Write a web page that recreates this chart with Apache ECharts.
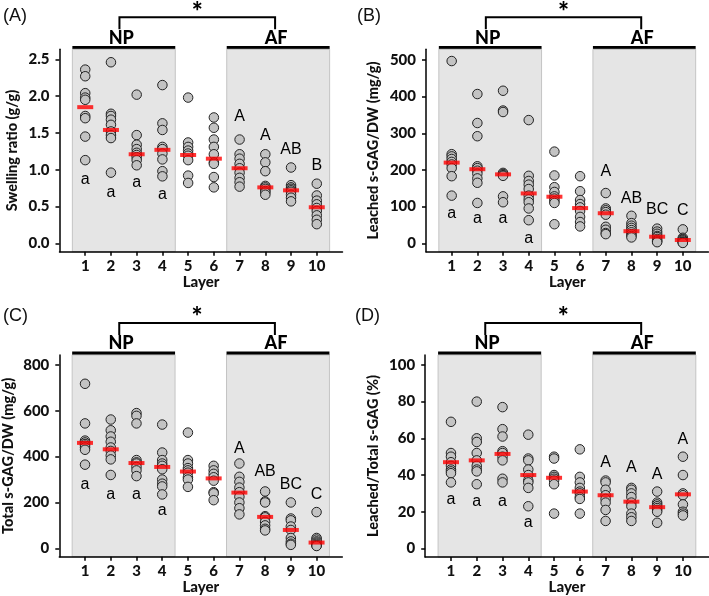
<!DOCTYPE html>
<html>
<head>
<meta charset="utf-8">
<script src="https://cdn.jsdelivr.net/npm/echarts@6/dist/echarts.min.js"></script>
<style>html,body{margin:0;padding:0;background:#fff;}#c{width:709px;height:596px;}</style>
</head>
<body>
<div id="c"></div>
<script>
// ---------- DATA ----------
const layers = [1, 2, 3, 4, 5, 6, 7, 8, 9, 10];

const swelling = [
  [2.36, 2.27, 2.04, 1.98, 1.95, 1.73, 1.70, 1.45, 1.13],
  [2.46, 1.76, 1.73, 1.68, 1.61, 1.52, 1.47, 1.43, 0.96],
  [2.02, 1.47, 1.34, 1.28, 1.23, 1.20, 1.17, 1.13, 1.06],
  [2.15, 1.63, 1.54, 1.31, 1.28, 1.22, 1.14, 0.98, 0.91],
  [1.98, 1.37, 1.31, 1.26, 1.22, 1.19, 1.13, 0.92, 0.82],
  [1.71, 1.57, 1.41, 1.31, 1.21, 1.10, 1.08, 0.90, 0.76],
  [1.41, 1.21, 1.15, 1.08, 1.02, 0.96, 0.89, 0.83, 0.77],
  [1.21, 1.10, 0.98, 0.78, 0.76, 0.74, 0.71, 0.69, 0.66],
  [1.03, 0.79, 0.76, 0.74, 0.72, 0.70, 0.66, 0.62, 0.57],
  [0.81, 0.65, 0.58, 0.53, 0.48, 0.44, 0.38, 0.32, 0.26]
];
const swellingMedian = [1.85, 1.54, 1.21, 1.27, 1.20, 1.15, 1.02, 0.76, 0.72, 0.49];
const swellingLetters = [[1, 'a', 0.87], [2, 'a', 0.69], [3, 'a', 0.82], [4, 'a', 0.66],
  [7, 'A', 1.72], [8, 'A', 1.47], [9, 'AB', 1.28], [10, 'B', 1.06]];
const swellingTicks = [0, 0.5, 1.0, 1.5, 2.0, 2.5];

const leached = [
  [497, 243, 237, 230, 222, 215, 205, 183, 130],
  [407, 328, 292, 210, 205, 198, 190, 177, 165, 110],
  [416, 362, 358, 192, 189, 186, 184, 128, 112],
  [336, 184, 170, 160, 148, 130, 120, 112, 95, 63],
  [250, 185, 153, 140, 128, 122, 115, 110, 52],
  [183, 142, 118, 107, 98, 88, 72, 58, 46],
  [137, 95, 90, 85, 78, 45, 37, 28, 25],
  [75, 55, 48, 42, 36, 30, 25, 20, 16],
  [40, 32, 26, 20, 17, 12, 8, 5, 3],
  [38, 15, 12, 10, 8, 5, 3, 2, 1]
];
const leachedMedian = [220, 202, 188, 136, 127, 96, 82, 33, 18, 9];
const leachedLetters = [[1, 'a', 82], [2, 'a', 68], [3, 'a', 68], [4, 'a', 14],
  [7, 'A', 195], [8, 'AB', 123], [9, 'BC', 91], [10, 'C', 89]];
const leachedTicks = [0, 100, 200, 300, 400, 500];

const total = [
  [718, 545, 470, 462, 455, 448, 440, 430, 365],
  [562, 515, 488, 465, 440, 425, 405, 388, 320],
  [590, 578, 545, 385, 375, 370, 355, 340, 315],
  [540, 418, 385, 370, 360, 345, 300, 282, 270, 235],
  [505, 385, 370, 350, 340, 330, 310, 300, 268],
  [360, 340, 325, 310, 295, 245, 240, 210],
  [370, 312, 290, 265, 245, 225, 200, 175, 148],
  [248, 205, 200, 140, 135, 115, 100, 85, 78],
  [200, 130, 122, 95, 80, 45, 30, 20, 15],
  [158, 45, 38, 30, 25, 20, 15, 12, 10]
];
const totalMedian = [460, 432, 372, 355, 335, 305, 243, 137, 80, 25];
const totalLetters = [[1, 'a', 276], [2, 'a', 233], [3, 'a', 233], [4, 'a', 163],
  [7, 'A', 436], [8, 'AB', 335], [9, 'BC', 279], [10, 'C', 233]];
const totalTicks = [0, 200, 400, 600, 800];

const ratio = [
  [69, 52, 50, 47, 45, 43, 42, 41, 36],
  [80, 60, 58, 52, 48, 45, 43, 42, 35],
  [77, 65, 61, 53, 52, 50, 48, 38, 36],
  [62, 49, 48, 43, 40, 37, 36, 33, 23],
  [50, 49, 40, 39, 38, 37, 35, 19],
  [54, 39, 36, 33, 31, 30, 28, 27, 19],
  [37, 36, 32, 29, 27, 25, 21, 15],
  [33, 32, 30, 28, 25, 23, 19, 17, 15],
  [31, 25, 24, 23, 22, 21, 20, 14],
  [50, 40, 30, 29, 24, 20, 19, 18]
];
const ratioMedian = [47, 48, 51.5, 40, 38.5, 31, 29, 25.5, 22.5, 29.5];
const ratioLetters = [[1, 'a', 26.6], [2, 'a', 25.4], [3, 'a', 25.4], [4, 'a', 14],
  [7, 'A', 46.6], [8, 'A', 43.8], [9, 'A', 40.2], [10, 'A', 59.2]];
const ratioTicks = [0, 20, 40, 60, 80, 100];

const panelTags = ['(A)', '(B)', '(C)', '(D)'];
const yNames = ['Swelling ratio (g/g)', 'Leached s-GAG/DW (mg/g)', 'Total s-GAG/DW (mg/g)', 'Leached/Total s-GAG (%)'];
const regionNames = ['NP', 'AF'];
const regionRanges = [[0.5, 4.5], [6.5, 10.5]];
const bracketEnds = [2.33, 8.38];
const xName = 'Layer';

// ---------- LAYOUT / STYLE ----------
const panels = [
  { vals: swelling, med: swellingMedian, let: swellingLetters, ticks: swellingTicks, dec: 1,
    grid: { left: 59.5, top: 49.3, width: 283, height: 202.4 }, ymin: -0.114, ymax: 2.636, gap: 40, tag: [3, 16.5] },
  { vals: leached, med: leachedMedian, let: leachedLetters, ticks: leachedTicks, dec: 0,
    grid: { left: 426, top: 49.3, width: 282.5, height: 202.4 }, ymin: -22.9, ymax: 529, gap: 45, tag: [357, 16] },
  { vals: total, med: totalMedian, let: totalLetters, ticks: totalTicks, dec: 0,
    grid: { left: 59.3, top: 355, width: 283, height: 201.7 }, ymin: -36.7, ymax: 843.6, gap: 43, tag: [3, 316] },
  { vals: ratio, med: ratioMedian, let: ratioLetters, ticks: ratioTicks, dec: 0,
    grid: { left: 425.2, top: 355, width: 283.5, height: 202.7 }, ymin: -4.7, ymax: 105.4, gap: 44, tag: [355, 316.5] }
];

const boldFont = 'Lato';
const axisColor = '#000';

const grids = [], xAxes = [], yAxes = [], series = [];
panels.forEach((p, i) => {
  grids.push(Object.assign({ containLabel: false }, p.grid));
  xAxes.push({
    type: 'value', gridIndex: i, min: 0, max: 11, z: 10,
    name: xName, nameLocation: 'middle', nameGap: 22,
    nameTextStyle: { fontFamily: boldFont, fontWeight: 900, fontSize: 15, color: '#111' },
    axisLine: { onZero: false, lineStyle: { color: axisColor, width: 1.5 } },
    axisTick: { customValues: layers, length: 4, lineStyle: { color: axisColor, width: 1.5 } },
    axisLabel: { customValues: layers, fontFamily: boldFont, fontWeight: 900, fontSize: 15, color: '#111', margin: 7 },
    splitLine: { show: false }
  });
  yAxes.push({
    type: 'value', gridIndex: i, min: p.ymin, max: p.ymax, z: 10,
    name: yNames[i], nameLocation: 'middle', nameGap: p.gap, nameRotate: 90,
    nameTextStyle: { fontFamily: boldFont, fontWeight: 900, fontSize: 14.5, color: '#111' },
    axisLine: { show: true, onZero: false, lineStyle: { color: axisColor, width: 1.5 } },
    axisTick: { show: true, customValues: p.ticks, length: 4, lineStyle: { color: axisColor, width: 1.5 } },
    axisLabel: { customValues: p.ticks, fontFamily: boldFont, fontWeight: 900, fontSize: 15, color: '#111', margin: 10,
      formatter: v => Number(v).toFixed(p.dec) },
    splitLine: { show: false }
  });
  // shaded regions
  series.push({
    type: 'scatter', xAxisIndex: i, yAxisIndex: i, z: 1, silent: true,
    data: [], symbolSize: 0,
    markArea: {
      silent: true,
      itemStyle: { color: '#e5e5e5', borderColor: '#c4c4c4', borderWidth: 1 },
      data: regionRanges.map(r => [{ xAxis: r[0], yAxis: p.ymin }, { xAxis: r[1], yAxis: p.ymax }])
    }
  });
  // points
  const pts = [];
  p.vals.forEach((arr, k) => arr.forEach(v => pts.push([layers[k], v])));
  series.push({
    type: 'scatter', xAxisIndex: i, yAxisIndex: i, z: 3, silent: true,
    data: pts, symbol: 'circle', symbolSize: 9.5,
    itemStyle: { color: '#c3c3c3', borderColor: '#222', borderWidth: 1, opacity: 1 }
  });
  // medians
  series.push({
    type: 'scatter', xAxisIndex: i, yAxisIndex: i, z: 4, silent: true,
    data: p.med.map((v, k) => [layers[k], v]), symbol: 'rect', symbolSize: [16, 4],
    itemStyle: { color: '#ff0000' }
  });
  // letters
  series.push({
    type: 'scatter', xAxisIndex: i, yAxisIndex: i, z: 5, silent: true,
    data: p.let.map(l => ({ value: [l[0], l[2]], name: l[1] })), symbolSize: 2,
    itemStyle: { color: 'rgba(0,0,0,0)' },
    label: { show: true, position: 'inside', formatter: d => d.name, opacity: 1,
      fontFamily: 'Liberation Sans', fontSize: 16, color: '#000', textBorderWidth: 0 }
  });
});

const chart = echarts.init(document.getElementById('c'), null, { renderer: 'canvas' });
chart.setOption({ animation: false, grid: grids, xAxis: xAxes, yAxis: yAxes, series: series });

// ---------- ANNOTATIONS (positions through the axes) ----------
const graphics = [];
panels.forEach((p, i) => {
  const px = (x, y) => chart.convertToPixel({ gridIndex: i }, [x, y]);
  const top = px(0, p.ymax)[1];
  regionRanges.forEach((r, k) => {
    const a = px(r[0], p.ymax), b = px(r[1], p.ymax);
    graphics.push({ type: 'rect', shape: { x: a[0], y: top - 3.4, width: b[0] - a[0], height: 3.4 },
      style: { fill: '#000' }, silent: true });
  });
  const bx1 = px(bracketEnds[0], 0)[0], bx2 = px(bracketEnds[1], 0)[0];
  graphics.push({ type: 'polyline', shape: { points: [[bx1, top - 20], [bx1, top - 32], [bx2, top - 32], [bx2, top - 20]] },
    style: { stroke: '#000', lineWidth: 2, fill: null }, silent: true });
  [[regionNames[0], px(2.4, 0)[0]], [regionNames[1], px(8.42, 0)[0]]].forEach(t => {
    graphics.push({ type: 'text', silent: true,
      style: { text: t[0], x: t[1], y: top - 11.5, align: 'center', verticalAlign: 'middle',
        textAlign: 'center', textVerticalAlign: 'middle', font: '900 18px Lato', fill: '#000' } });
  });
  graphics.push({ type: 'text', silent: true,
    style: { text: '*', x: (bx1 + bx2) / 2, y: top - 37, align: 'center', verticalAlign: 'middle',
      textAlign: 'center', textVerticalAlign: 'middle', font: '900 26px Lato', fill: '#000' } });
  graphics.push({ type: 'text', silent: true,
    style: { text: panelTags[i], x: p.tag[0], y: p.tag[1], align: 'left', verticalAlign: 'middle',
      textAlign: 'left', textVerticalAlign: 'middle', font: '18px "Liberation Sans"', fill: '#111' } });
});
chart.setOption({ graphic: graphics });
</script>
</body>
</html>
